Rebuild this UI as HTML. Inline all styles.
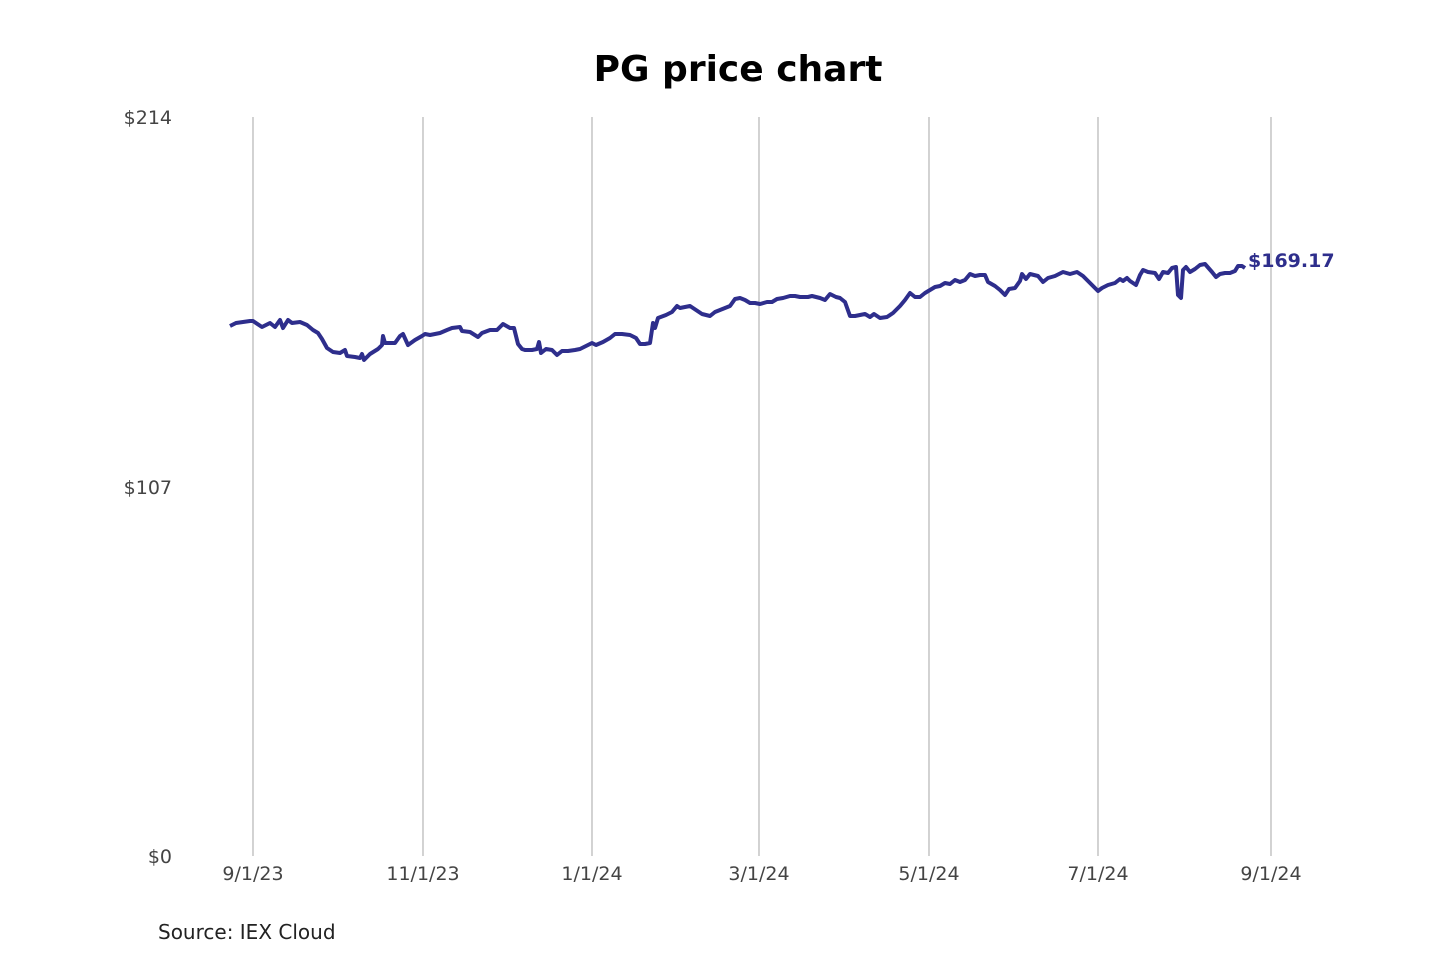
<!DOCTYPE html>
<html><head><meta charset="utf-8"><style>
body{margin:0;background:#fff;width:1440px;height:960px;overflow:hidden;font-family:"DejaVu Sans","Liberation Sans",sans-serif}
</style></head><body>
<svg width="1440" height="960" xmlns="http://www.w3.org/2000/svg" font-family="DejaVu Sans, sans-serif">
<text x="738" y="81" text-anchor="middle" font-size="36" font-weight="bold" fill="#000">PG price chart</text>
<g stroke="#bbb" stroke-width="1.3">
<line x1="253" y1="117" x2="253" y2="856"/><line x1="423" y1="117" x2="423" y2="856"/>
<line x1="592" y1="117" x2="592" y2="856"/><line x1="759" y1="117" x2="759" y2="856"/>
<line x1="929" y1="117" x2="929" y2="856"/><line x1="1098" y1="117" x2="1098" y2="856"/>
<line x1="1271" y1="117" x2="1271" y2="856"/>
</g>
<g font-size="19" fill="#444" text-anchor="end">
<text x="172" y="124">$214</text><text x="172" y="494">$107</text><text x="172" y="863">$0</text>
</g>
<g font-size="19" fill="#444" text-anchor="middle">
<text x="253" y="880">9/1/23</text><text x="423" y="880">11/1/23</text><text x="592" y="880">1/1/24</text>
<text x="759" y="880">3/1/24</text><text x="929" y="880">5/1/24</text><text x="1098" y="880">7/1/24</text><text x="1271" y="880">9/1/24</text>
</g>
<polyline fill="none" stroke="#2e2e8c" stroke-width="4" stroke-linejoin="round" points="230,326 236,323 250,321 253,321 262,327 266,325 270,323 275,327 280,320 283,328 288,320 292,323 300,322 307,325 313,330 318,333 322,339 327,348 333,352 340,353 345,350 347,356 355,357 360,358 362,354 364,360 370,354 378,349 382,345 383,336 385,343 395,343 400,336 403,334 408,345 415,340 422,336 425,334 430,335 440,333 447,330 452,328 460,327 462,331 470,332 478,337 482,333 490,330 497,330 500,327 503,324 510,328 514,328 518,344 522,349 525,350 532,350 537,349 539,342 541,353 546,349 552,350 557,355 562,351 568,351 575,350 580,349 588,345 592,343 596,345 603,342 610,338 615,334 622,334 630,335 636,338 640,344 645,344 650,343 653,323 655,328 658,318 666,315 672,312 677,306 680,308 690,306 696,310 702,314 710,316 715,312 720,310 730,306 735,299 740,298 745,300 750,303 755,303 760,304 767,302 772,302 777,299 783,298 790,296 795,296 800,297 808,297 812,296 820,298 825,300 830,294 836,297 840,298 845,302 850,316 855,316 860,315 865,314 870,317 874,314 880,318 887,317 893,313 900,306 905,300 910,293 915,297 920,297 925,293 930,290 935,287 940,286 945,283 950,284 955,280 960,282 965,280 970,274 975,276 980,275 985,275 988,282 995,286 1000,290 1005,295 1009,289 1015,288 1020,281 1022,274 1026,279 1030,274 1038,276 1043,282 1048,278 1055,276 1063,272 1070,274 1077,272 1083,276 1090,283 1098,291 1102,288 1108,285 1115,283 1120,279 1123,281 1127,278 1130,281 1136,285 1140,275 1143,270 1148,272 1155,273 1159,279 1163,272 1168,273 1172,268 1176,267 1178,295 1181,298 1183,270 1186,267 1190,272 1195,269 1200,265 1205,264 1212,272 1216,277 1220,274 1225,273 1230,273 1235,271 1238,266 1242,266 1245,268"/>
<text x="1248" y="267" font-size="19" font-weight="bold" fill="#2e2e8c">$169.17</text>
<text x="158" y="939" font-size="20" fill="#222">Source: IEX Cloud</text>
</svg>
</body></html>
